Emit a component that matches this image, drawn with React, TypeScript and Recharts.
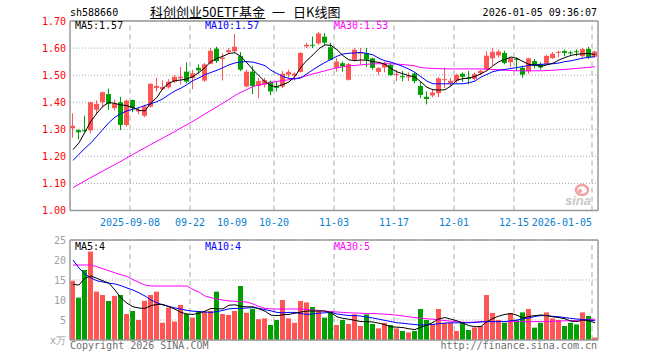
import React from 'react'
import {
  Bar,
  CartesianGrid,
  ComposedChart,
  Line,
  ReferenceLine,
  XAxis,
  YAxis,
} from 'recharts'

const MONO = '"DejaVu Sans Mono", "Liberation Mono", monospace'
const CJK = '"Noto Sans CJK SC", "Noto Sans", sans-serif'
const RED = '#ff5555'
const GREEN = '#00a000'

const dates = [
  '2025-08-25', '2025-08-26', '2025-08-27', '2025-08-28', '2025-08-29',
  '2025-09-01', '2025-09-02', '2025-09-03', '2025-09-04', '2025-09-05',
  '2025-09-08', '2025-09-09', '2025-09-10', '2025-09-11', '2025-09-12',
  '2025-09-15', '2025-09-16', '2025-09-17', '2025-09-18', '2025-09-19',
  '2025-09-22', '2025-09-23', '2025-09-24', '2025-09-25', '2025-09-26',
  '2025-09-29', '2025-09-30', '2025-10-09', '2025-10-10', '2025-10-13',
  '2025-10-14', '2025-10-15', '2025-10-16', '2025-10-17', '2025-10-20',
  '2025-10-21', '2025-10-22', '2025-10-23', '2025-10-24', '2025-10-27',
  '2025-10-28', '2025-10-29', '2025-10-30', '2025-10-31', '2025-11-03',
  '2025-11-04', '2025-11-05', '2025-11-06', '2025-11-07', '2025-11-10',
  '2025-11-11', '2025-11-12', '2025-11-13', '2025-11-14', '2025-11-17',
  '2025-11-18', '2025-11-19', '2025-11-20', '2025-11-21', '2025-11-24',
  '2025-11-25', '2025-11-26', '2025-11-27', '2025-11-28', '2025-12-01',
  '2025-12-02', '2025-12-03', '2025-12-04', '2025-12-05', '2025-12-08',
  '2025-12-09', '2025-12-10', '2025-12-11', '2025-12-12', '2025-12-15',
  '2025-12-16', '2025-12-17', '2025-12-18', '2025-12-19', '2025-12-22',
  '2025-12-23', '2025-12-24', '2025-12-25', '2025-12-26', '2025-12-29',
  '2025-12-30', '2025-12-31', '2026-01-05',
]

const opens = [
  1.304, 1.297, 1.297, 1.296, 1.372, 1.4, 1.43, 1.378, 1.4, 1.316,
  1.408, 1.366, 1.35, 1.384, 1.452, 1.448, 1.455, 1.475, 1.488, 1.513,
  1.489, 1.527, 1.48, 1.542, 1.598, 1.56, 1.585, 1.588, 1.57, 1.458,
  1.513, 1.46, 1.465, 1.476, 1.458, 1.458, 1.502, 1.498, 1.512, 1.606,
  1.612, 1.617, 1.642, 1.603, 1.526, 1.544, 1.483, 1.557, 1.579, 1.581,
  1.562, 1.512, 1.528, 1.538, 1.5, 1.496, 1.492, 1.506, 1.46, 1.42,
  1.425, 1.433, 1.482, 1.471, 1.478, 1.505, 1.49, 1.486, 1.507, 1.521,
  1.562, 1.573, 1.582, 1.548, 1.56, 1.527, 1.514, 1.552, 1.54, 1.542,
  1.563, 1.583, 1.589, 1.584, 1.588, 1.57, 1.597, 1.568,
]
const highs = [
  1.359, 1.3, 1.35, 1.402, 1.407, 1.44, 1.45, 1.41, 1.42, 1.41,
  1.41, 1.38, 1.39, 1.47, 1.49, 1.48, 1.485, 1.5, 1.53, 1.547,
  1.52, 1.54, 1.545, 1.6, 1.605, 1.58, 1.6, 1.652, 1.585, 1.52,
  1.535, 1.49, 1.49, 1.48, 1.478, 1.515, 1.52, 1.51, 1.585, 1.62,
  1.643, 1.66, 1.655, 1.62, 1.563, 1.55, 1.545, 1.6, 1.6, 1.6,
  1.565, 1.53, 1.55, 1.545, 1.52, 1.515, 1.51, 1.51, 1.475, 1.44,
  1.447, 1.493, 1.528, 1.49, 1.505, 1.51, 1.515, 1.51, 1.52, 1.588,
  1.6, 1.595, 1.59, 1.566, 1.565, 1.535, 1.565, 1.56, 1.548, 1.575,
  1.585, 1.59, 1.595, 1.59, 1.595, 1.6, 1.605, 1.59,
]
const lows = [
  1.269, 1.263, 1.289, 1.285, 1.356, 1.38, 1.372, 1.37, 1.297, 1.31,
  1.363, 1.355, 1.345, 1.38, 1.44, 1.445, 1.45, 1.47, 1.465, 1.47,
  1.448, 1.505, 1.475, 1.54, 1.545, 1.48, 1.578, 1.585, 1.515, 1.455,
  1.43, 1.415, 1.455, 1.425, 1.44, 1.452, 1.49, 1.48, 1.51, 1.6,
  1.6, 1.612, 1.612, 1.555, 1.513, 1.512, 1.48, 1.55, 1.54, 1.53,
  1.52, 1.5, 1.51, 1.498, 1.478, 1.478, 1.478, 1.47, 1.415, 1.392,
  1.418, 1.418, 1.452, 1.46, 1.47, 1.475, 1.466, 1.48, 1.5, 1.52,
  1.536, 1.565, 1.54, 1.53, 1.515, 1.49, 1.505, 1.525, 1.52, 1.538,
  1.56, 1.566, 1.57, 1.57, 1.57, 1.565, 1.56, 1.565,
]
const closes = [
  1.313, 1.289, 1.293, 1.4, 1.394, 1.437, 1.393, 1.395, 1.316, 1.406,
  1.378, 1.372, 1.384, 1.468, 1.46, 1.456, 1.476, 1.494, 1.494, 1.476,
  1.507, 1.518, 1.54, 1.59, 1.552, 1.565, 1.592, 1.605, 1.52, 1.513,
  1.46, 1.478, 1.482, 1.44, 1.453, 1.505, 1.512, 1.506, 1.582, 1.612,
  1.609, 1.654, 1.62, 1.557, 1.55, 1.532, 1.541, 1.594, 1.583, 1.557,
  1.527, 1.526, 1.546, 1.5, 1.504, 1.492, 1.496, 1.478, 1.427, 1.412,
  1.436, 1.488, 1.485, 1.479, 1.501, 1.494, 1.488, 1.504, 1.516, 1.572,
  1.586, 1.587, 1.545, 1.563, 1.556, 1.502, 1.562, 1.535, 1.528, 1.571,
  1.579, 1.586, 1.582, 1.582, 1.585, 1.596, 1.567, 1.587,
]

// price moving averages
const ma5 = [
  1.225, 1.25, 1.29, 1.33, 1.36, 1.385, 1.4, 1.395, 1.39, 1.387,
  1.38, 1.37, 1.368, 1.398, 1.418, 1.452, 1.47, 1.48, 1.482, 1.486,
  1.495, 1.51, 1.528, 1.55, 1.562, 1.57, 1.58, 1.583, 1.568, 1.545,
  1.52, 1.498, 1.476, 1.46, 1.458, 1.465, 1.475, 1.495, 1.53, 1.555,
  1.575, 1.598, 1.612, 1.61, 1.594, 1.572, 1.556, 1.554, 1.556, 1.555,
  1.55, 1.547, 1.54, 1.525, 1.512, 1.505, 1.498, 1.493, 1.475, 1.455,
  1.446, 1.445, 1.446, 1.46, 1.482, 1.487, 1.49, 1.495, 1.505, 1.517,
  1.535, 1.55, 1.558, 1.567, 1.562, 1.55, 1.54, 1.537, 1.533, 1.538,
  1.544, 1.556, 1.565, 1.573, 1.577, 1.579, 1.58, 1.576,
]
const ma10 = [
  1.185, 1.208, 1.23, 1.25, 1.275, 1.3, 1.325, 1.345, 1.358, 1.368,
  1.374, 1.38, 1.388, 1.395, 1.402, 1.413, 1.428, 1.442, 1.452, 1.465,
  1.48, 1.49, 1.502, 1.51, 1.518, 1.528, 1.538, 1.545, 1.549, 1.55,
  1.548, 1.542, 1.535, 1.518, 1.506, 1.495, 1.488, 1.486, 1.49, 1.505,
  1.52, 1.534, 1.547, 1.558, 1.57, 1.578, 1.581, 1.582, 1.584, 1.58,
  1.575, 1.562, 1.553, 1.548, 1.54, 1.532, 1.522, 1.51, 1.494, 1.478,
  1.468, 1.468, 1.468, 1.468, 1.468, 1.468, 1.472, 1.478, 1.493, 1.503,
  1.513, 1.518, 1.521, 1.525, 1.528, 1.532, 1.536, 1.538, 1.54, 1.541,
  1.542, 1.545, 1.55, 1.553, 1.558, 1.563, 1.566, 1.568,
]
const ma30 = [
  1.085, 1.097, 1.11, 1.122, 1.134, 1.146, 1.158, 1.17, 1.182, 1.195,
  1.207, 1.22, 1.232, 1.244, 1.256, 1.268, 1.28, 1.292, 1.305, 1.317,
  1.33, 1.343, 1.357, 1.37, 1.383, 1.397, 1.41, 1.425, 1.437, 1.447,
  1.458, 1.463, 1.468, 1.473, 1.477, 1.48, 1.483, 1.487, 1.492, 1.498,
  1.505, 1.51, 1.516, 1.522, 1.527, 1.531, 1.534, 1.536, 1.538, 1.54,
  1.542, 1.542, 1.542, 1.542, 1.541, 1.539, 1.537, 1.534, 1.528, 1.526,
  1.525, 1.524, 1.523, 1.523, 1.523, 1.523, 1.523, 1.523, 1.523, 1.522,
  1.521, 1.52, 1.518, 1.517, 1.516, 1.516, 1.516, 1.516, 1.516, 1.517,
  1.518, 1.52, 1.521, 1.523, 1.525, 1.527, 1.529, 1.531,
]

// volume in 10k lots
const volumes = [
  14.8, 10.6, 17.5, 22.1, 12.1, 11.25, 9.75, 11.0, 11.25, 6.5,
  7.25, 5.0, 9.8, 11.25, 12.1, 4.3, 8.1, 4.6, 8.75, 6.5,
  5.6, 7.25, 7.1, 7.25, 12.1, 6.5, 6.25, 7.25, 13.5, 6.8,
  7.75, 5.2, 5.4, 3.75, 5.0, 10.0, 5.4, 4.3, 9.75, 9.4,
  8.25, 7.25, 5.6, 7.25, 3.75, 5.0, 4.0, 6.4, 3.5, 6.4,
  4.0, 2.9, 4.3, 3.75, 2.9, 2.25, 1.9, 2.25, 7.75, 5.0,
  4.0, 7.75, 4.3, 4.3, 2.25, 4.3, 2.5, 3.1, 3.5, 11.25,
  6.75, 5.0, 4.3, 6.75, 5.0, 6.9, 7.75, 3.1, 4.3, 6.9,
  5.4, 5.0, 3.5, 4.3, 3.9, 6.9, 6.0, 0.6,
]
const volMa5 = [
  13.9, 13.75, 15.5, 16.0, 15.4, 14.8, 14.2, 12.5, 10.5, 9.2,
  8.3, 8.0, 7.9, 8.6, 8.9, 8.9, 8.3, 7.7, 6.9, 6.5,
  6.4, 6.7, 7.2, 7.9, 7.8, 7.8, 8.7, 8.8, 8.4, 8.3,
  8.3, 7.8, 7.2, 6.2, 6.1, 6.3, 6.4, 6.7, 7.0, 7.25,
  7.25, 7.25, 7.25, 6.8, 5.8, 5.4, 5.2, 4.9, 4.6, 4.6,
  4.5, 4.2, 3.8, 3.3, 3.2, 3.1, 2.8, 2.6, 3.2, 3.75,
  4.4, 5.3, 5.6, 5.2, 4.8, 4.2, 3.6, 3.3, 3.4, 4.6,
  5.4, 6.0, 6.4, 6.6, 6.2, 5.5, 5.9, 6.1, 6.25, 6.1,
  5.8, 5.6, 5.3, 4.7, 4.6, 5.0, 4.8, 4.3,
]
const volMa10 = [
  20.0, 18.0, 16.5, 15.5, 14.8, 14.5, 14.2, 14.0, 13.6, 13.0,
  12.5, 11.8, 11.0, 10.0, 9.3, 8.75, 8.4, 8.0, 7.7, 7.4,
  7.2, 7.1, 7.0, 6.9, 7.1, 7.4, 7.8, 7.9, 7.9, 8.0,
  8.1, 7.9, 7.6, 7.3, 6.9, 6.8, 6.9, 6.9, 6.6, 6.4,
  6.5, 6.7, 6.8, 6.9, 6.5, 6.3, 6.1, 6.1, 6.0, 5.7,
  5.5, 5.2, 4.9, 4.6, 4.3, 4.2, 4.0, 3.85, 3.75, 3.8,
  3.9, 4.1, 4.2, 4.3, 4.3, 4.3, 4.3, 4.4, 4.5, 4.6,
  4.6, 4.6, 4.6, 4.8, 5.0, 5.3, 5.5, 5.9, 6.1, 6.1,
  5.9, 5.8, 5.6, 5.4, 5.25, 5.1, 5.0, 4.8,
]
const volMa30 = [
  18.75, 18.75, 18.75, 18.75, 18.3, 17.8, 17.3, 16.8, 16.3, 15.9,
  15.1, 14.4, 13.75, 13.5, 13.5, 13.5, 13.5, 13.5, 13.5, 13.5,
  12.6, 12.0, 11.0, 10.6, 10.2, 10.0, 9.75, 9.7, 9.6, 9.5,
  9.0, 8.4, 7.9, 7.8, 7.75, 7.75, 7.75, 7.75, 7.75, 7.6,
  7.5, 7.4, 7.2, 7.1, 7.0, 6.9, 6.8, 6.75, 6.7, 6.6,
  6.65, 6.55, 6.45, 6.35, 6.2, 6.0, 5.8, 5.6, 5.45, 5.3,
  5.2, 5.0, 4.85, 4.7, 4.55, 4.45, 4.4, 4.5, 4.6, 4.6,
  4.6, 4.6, 4.6, 4.6, 4.6, 4.6, 4.6, 4.6, 4.6, 4.6,
  4.65, 4.75, 4.8, 4.85, 4.9, 5.0, 5.1, 5.2,
]

const priceTicks = [1.0, 1.1, 1.2, 1.3, 1.4, 1.5, 1.6, 1.7]
const volTicks = [0, 5, 10, 15, 20, 25]
const tickDates = [
  '2025-09-08', '2025-09-22', '2025-10-09', '2025-10-20', '2025-11-03',
  '2025-11-17', '2025-12-01', '2025-12-15', '2026-01-05',
]
const tickLabels = [
  '2025-09-08', '09-22', '10-09', '10-20', '11-03', '11-17', '12-01', '12-15', '2026-01-05',
]
const gridDates = [
  '2025-09-08', '2025-09-22', '2025-10-20', '2025-11-03', '2025-11-17',
  '2025-12-01', '2025-12-15', '2026-01-05',
]

const data = dates.map((date, i) => ({
  date,
  open: opens[i],
  high: highs[i],
  low: lows[i],
  close: closes[i],
  ma5: ma5[i],
  ma10: ma10[i],
  ma30: ma30[i],
  vol: volumes[i],
  up: closes[i] >= opens[i],
  vma5: volMa5[i],
  vma10: volMa10[i],
  vma30: volMa30[i],
}))

const Candle = (props: any) => {
  const { x, y, width, height, payload } = props
  if (x == null || y == null) return null
  const color = payload.up ? RED : GREEN
  const top = Math.min(y, y + height)
  const h = Math.abs(height)
  const k = payload.high === payload.low ? 0 : h / (payload.high - payload.low)
  const bTop = top + (payload.high - Math.max(payload.open, payload.close)) * k
  const bBot = top + (payload.high - Math.min(payload.open, payload.close)) * k
  const bw = Math.max(width - 1, 1)
  const cx = Math.round(x + bw / 2 - 0.5) + 0.5
  return (
    <g>
      <line x1={cx} x2={cx} y1={top} y2={top + h} stroke={color} strokeWidth={1} />
      <rect x={x} y={bTop} width={bw} height={Math.max(bBot - bTop, 1)} fill={color} />
    </g>
  )
}

const VolBar = (props: any) => {
  const { x, y, width, height, payload } = props
  if (x == null || y == null) return null
  return (
    <rect
      x={x}
      y={Math.min(y, y + height)}
      width={Math.max(width - 1, 1)}
      height={Math.abs(height)}
      fill={payload.up ? RED : GREEN}
    />
  )
}

const DateTick = (props: any) => {
  const { x, y, payload } = props
  const idx = tickDates.indexOf(payload.value)
  const last = idx === tickDates.length - 1
  return (
    <text
      x={x - 3}
      y={y}
      dy="0.71em"
      textAnchor={last ? 'end' : 'middle'}
      fill="#0a7fd0"
      fontSize={10}
      fontFamily={MONO}
    >
      {tickLabels[idx]}
    </text>
  )
}

const Txt = ({ x, y, color, size = 10, font = MONO, anchor = 'left', children, style }: any) => (
  <div
    style={{
      position: 'absolute',
      top: y - 7,
      [anchor === 'right' ? 'right' : 'left']: anchor === 'right' ? 660 - x : x,
      height: 14,
      lineHeight: '14px',
      fontSize: size,
      fontFamily: font,
      color,
      whiteSpace: 'pre',
      ...style,
    }}
  >
    {children}
  </div>
)

export default function App() {
  return (
    <div
      style={{
        position: 'absolute',
        left: 0,
        top: 0,
        width: 660,
        height: 360,
        background: '#fff',
        overflow: 'hidden',
      }}
    >
      <div style={{ position: 'absolute', left: 0, top: 0 }}>
        <ComposedChart
          width={660}
          height={230}
          data={data}
          margin={{ top: 21, right: 62, bottom: 0, left: 0 }}
          barCategoryGap={0}
        >
          <CartesianGrid vertical={false} stroke="#a8a8a8" strokeDasharray="1 2" />
          <XAxis
            dataKey="date"
            ticks={tickDates}
            interval={0}
            tick={<DateTick />}
            tickLine={false}
            tickSize={0}
            tickMargin={8}
            height={19.5}
            axisLine={{ stroke: '#999', strokeWidth: 1.5 }}
          />
          <YAxis
            domain={[1, 1.7]}
            ticks={priceTicks}
            tickFormatter={(v: number) => v.toFixed(2)}
            width={70}
            tickLine={false}
            tickSize={0}
            tickMargin={4}
            axisLine={{ stroke: '#999', strokeWidth: 1.5 }}
            tick={{ fill: '#ff0000', fontSize: 10, fontFamily: MONO }}
          />
          {gridDates.map((d) => (
            <ReferenceLine
              key={d}
              x={d}
              position="start"
              stroke="#aaa"
              strokeDasharray="5 4"
            />
          ))}
          <ReferenceLine y={1.7} stroke="#999" strokeWidth={1.5} />
          <ReferenceLine x={dates[dates.length - 1]} position="end" stroke="#999" strokeWidth={1.5} />
          <Bar
            dataKey={(d: any) => [d.low, d.high]}
            shape={<Candle />}
            isAnimationActive={false}
          />
          <Line dataKey="ma30" stroke="#ff00ff" strokeWidth={1} dot={false} isAnimationActive={false} />
          <Line dataKey="ma10" stroke="#0000ff" strokeWidth={1} dot={false} isAnimationActive={false} />
          <Line dataKey="ma5" stroke="#000000" strokeWidth={1} dot={false} isAnimationActive={false} />
        </ComposedChart>
      </div>

      <div style={{ position: 'absolute', left: 0, top: 230 }}>
        <ComposedChart
          width={660}
          height={130}
          data={data}
          margin={{ top: 10, right: 62, bottom: 20, left: 0 }}
          barCategoryGap={0}
        >
          <CartesianGrid vertical={false} stroke="#a8a8a8" strokeDasharray="1 2" />
          <XAxis dataKey="date" hide />
          <YAxis
            domain={[0, 25]}
            ticks={volTicks}
            tickFormatter={(v: number) => (v === 0 ? 'x万' : String(v))}
            width={70}
            tickLine={false}
            tickSize={0}
            tickMargin={4}
            axisLine={{ stroke: '#999', strokeWidth: 1.5 }}
            tick={{ fill: '#a0a0a0', fontSize: 10, fontFamily: MONO }}
          />
          {gridDates.map((d) => (
            <ReferenceLine
              key={d}
              x={d}
              position="start"
              stroke="#aaa"
              strokeDasharray="5 4"
            />
          ))}
          <ReferenceLine y={25} stroke="#999" strokeWidth={1.5} />
          <ReferenceLine y={0} stroke="#999" strokeWidth={1.5} />
          <ReferenceLine x={dates[dates.length - 1]} position="end" stroke="#999" strokeWidth={1.5} />
          <Bar dataKey="vol" shape={<VolBar />} isAnimationActive={false} />
          <Line dataKey="vma30" stroke="#ff00ff" strokeWidth={1} dot={false} isAnimationActive={false} />
          <Line dataKey="vma10" stroke="#0000ff" strokeWidth={1} dot={false} isAnimationActive={false} />
          <Line dataKey="vma5" stroke="#000000" strokeWidth={1} dot={false} isAnimationActive={false} />
        </ComposedChart>
      </div>

      <Txt x={70} y={13} color="#000">sh588660</Txt>
      <Txt x={150} y={12} color="#000" size={13} font={CJK} style={{ textDecoration: 'underline' }}>
        科创创业50ETF基金
      </Txt>
      <Txt x={272} y={12} color="#000" size={13} font={CJK}>一</Txt>
      <Txt x={293} y={12} color="#000" size={13} font={CJK}>日K线图</Txt>
      <Txt x={597} y={13} color="#000" anchor="right">2026-01-05 09:36:07</Txt>

      <Txt x={75} y={26} color="#000">MA5:1.57</Txt>
      <Txt x={205} y={26} color="#0000ff">MA10:1.57</Txt>
      <Txt x={334} y={26} color="#ff00ff">MA30:1.53</Txt>

      <Txt x={75} y={247} color="#000">MA5:4</Txt>
      <Txt x={205} y={247} color="#0000ff">MA10:4</Txt>
      <Txt x={334} y={247} color="#ff00ff">MA30:5</Txt>

      <Txt x={70} y={346} color="#707070">Copyright 2026 SINA.COM</Txt>
      <Txt x={597} y={346} color="#707070" anchor="right">http://finance.sina.com.cn</Txt>

      <svg style={{ position: 'absolute', left: 562, top: 182 }} width={40} height={26}>
        <ellipse cx={20} cy={8} rx={6} ry={5} fill="none" stroke="#f2a0a0" strokeWidth={2.5} />
        <circle cx={18} cy={9} r={2} fill="#f2a0a0" />
        <text x={3} y={23} fontSize={13} fontWeight="bold" fontStyle="italic" fill="#c8c8c8" fontFamily="Arial, sans-serif">
          sina
        </text>
      </svg>
    </div>
  )
}
